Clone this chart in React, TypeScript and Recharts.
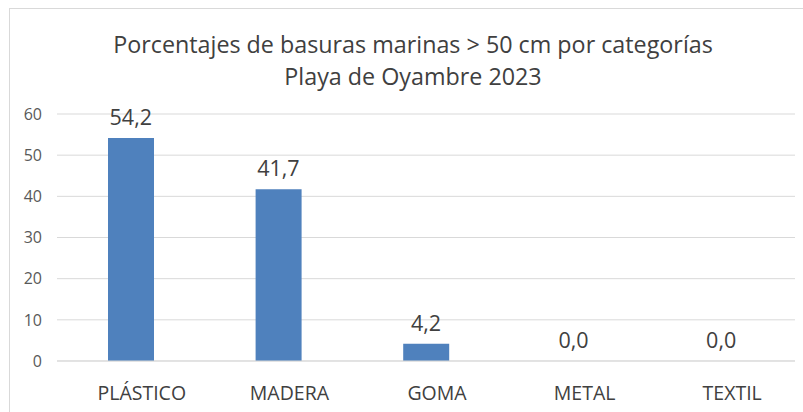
import React from 'react';
import { ComposedChart, Bar, Line, XAxis, YAxis, CartesianGrid, LabelList } from 'recharts';

const categories = ['PLÁSTICO', 'MADERA', 'GOMA', 'METAL', 'TEXTIL'];
const porcentajes = [54.2, 41.7, 4.2, 0.0, 0.0];
const yTicks = [0, 10, 20, 30, 40, 50, 60];

const titleLines = [
  'Porcentajes de basuras marinas > 50 cm por categorías',
  'Playa de Oyambre 2023',
];

const data = categories.map((name, i) => ({ name, value: porcentajes[i] }));

const FONT = '"Open Sans", sans-serif';

const fmt = (v: number) => v.toFixed(1).replace('.', ',');

const App: React.FC = () => {
  return (
    <div
      style={{
        position: 'fixed',
        left: 0,
        top: 0,
        width: 803,
        height: 412,
        background: '#fff',
        fontFamily: FONT,
        overflow: 'hidden',
      }}
    >
      {/* chart frame, cut off on the right and bottom like the reference */}
      <div
        style={{
          position: 'absolute',
          left: 9,
          top: 8,
          width: 820,
          height: 420,
          border: '1px solid #d9d9d9',
          boxSizing: 'border-box',
        }}
      />
      <div
        style={{
          position: 'absolute',
          left: 0,
          top: 28,
          width: 826,
          textAlign: 'center',
          color: '#404040',
          fontSize: 23.3,
          lineHeight: '32px',
        }}
      >
        {titleLines.map(t => (
          <div key={t}>{t}</div>
        ))}
      </div>
      <ComposedChart
        width={803}
        height={412}
        data={data}
        margin={{ top: 114, right: 8, bottom: 0, left: 0 }}
        style={{ position: 'absolute', left: 0, top: 0 }}
      >
        <CartesianGrid vertical={false} stroke="#d9d9d9" strokeWidth={1} />
        <XAxis
          dataKey="name"
          height={51}
          axisLine={{ stroke: '#d9d9d9' }}
          tickLine={false}
          tick={{ fill: '#404040', fontSize: 19.5, fontFamily: FONT, dx: 11 }}
          tickMargin={19}
        />
        <YAxis
          width={57}
          domain={[0, 60]}
          ticks={yTicks}
          axisLine={false}
          tickLine={false}
          tick={{ fill: '#595959', fontSize: 16, fontFamily: FONT }}
          tickMargin={9}
        />
        <Bar dataKey="value" fill="#4f81bd" barSize={46} isAnimationActive={false} />
        {/* invisible line only carries the value labels, so zero values get one too */}
        <Line
          dataKey="value"
          stroke="none"
          dot={false}
          activeDot={false}
          isAnimationActive={false}
        >
          <LabelList
            dataKey="value"
            position="top"
            offset={13}
            formatter={(v: number) => fmt(v)}
            style={{ fill: '#404040', fontSize: 21.5, fontFamily: FONT }}
          />
        </Line>
      </ComposedChart>
    </div>
  );
};

export default App;
